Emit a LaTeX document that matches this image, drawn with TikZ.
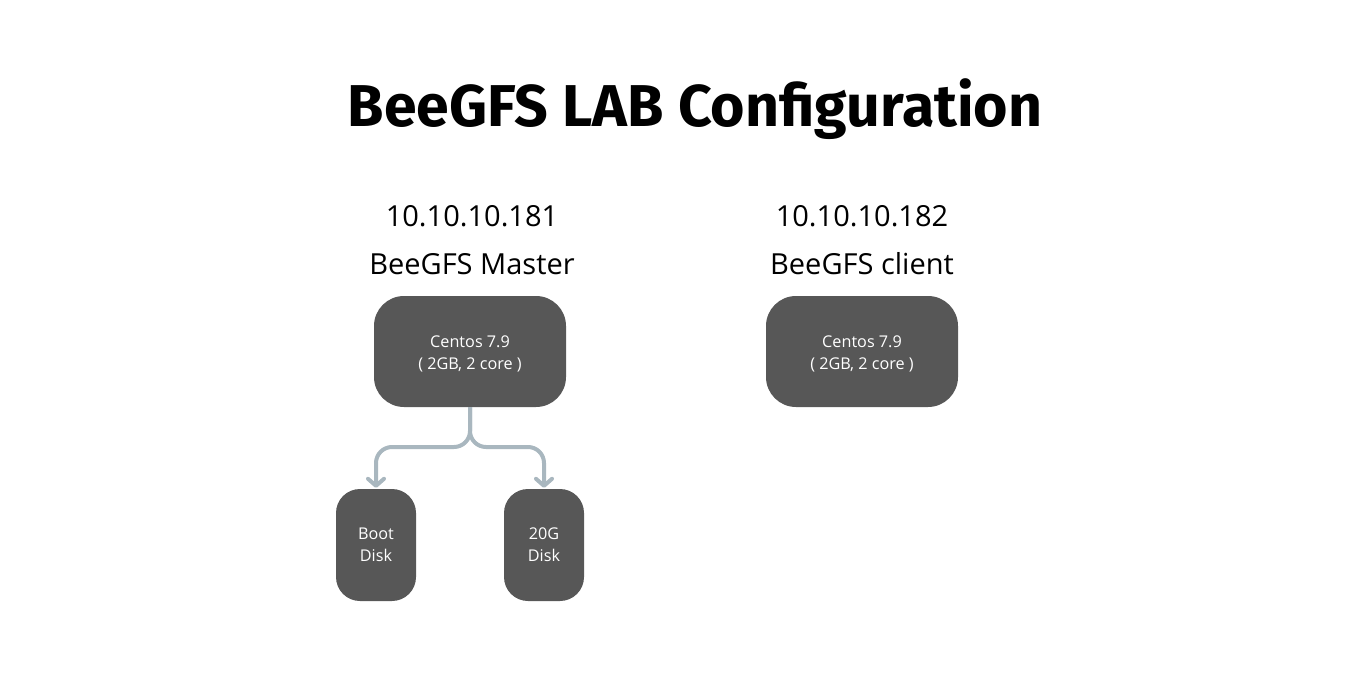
\documentclass[tikz,border=0pt]{standalone}
\usepackage{fontspec}
\setmainfont{Open Sans}
\newfontfamily\titlefont{Fira Sans}
\usetikzlibrary{arrows.meta}
\definecolor{boxgray}{HTML}{575757}
\definecolor{conngray}{HTML}{A9B7BF}
\tikzset{
  server/.style={fill=boxgray, rounded corners=30pt, minimum width=192pt, minimum height=111pt, inner sep=0pt},
  boxtext/.style={text=white, align=center, font=\fontsize{16.2}{22}\selectfont, inner sep=0pt},
  disk/.style={fill=boxgray, rounded corners=24pt, minimum width=80pt, minimum height=112pt,
    text=white, align=center, font=\fontsize{16.2}{22}\selectfont, inner sep=0pt},
  label/.style={font=\fontsize{29}{32}\selectfont, anchor=base, inner sep=0pt},
  conn/.style={draw=conngray, line width=4pt, rounded corners=16pt,
    -{Straight Barb[length=7pt,width=16pt,line cap=round,line join=round]}, shorten >=1pt},
}
\begin{document}
\begin{tikzpicture}[x=1pt,y=-1pt]
\useasboundingbox (0,0) rectangle (1357,690);
\node[anchor=base, inner sep=0pt] (title) at (695,127)
  {\titlefont\bfseries\fontsize{59}{64}\selectfont BeeGFS LAB Configuration};
\node[label] (ip1) at (472,226) {10.10.10.181};
\node[label] (role1) at (472,274) {BeeGFS Master};
\node[label] (ip2) at (862,226) {10.10.10.182};
\node[label] (role2) at (862,274) {BeeGFS client};
\node[server] (master) at (470,351.5) {};
\node[boxtext] (mastertext) at (470,354) {Centos 7.9\\( 2GB, 2 core )};
\node[server] (client) at (862,351.5) {};
\node[boxtext] (clienttext) at (862,354) {Centos 7.9\\( 2GB, 2 core )};
\node[disk] (boot) at (376,545) {Boot\\Disk};
\node[disk] (data) at (544,545) {20G\\Disk};
\coordinate (split) at (470,447);
\draw[conn] (master.south) -- (split) -| (boot.north);
\draw[conn] (master.south) -- (split) -| (data.north);
\end{tikzpicture}
\end{document}
